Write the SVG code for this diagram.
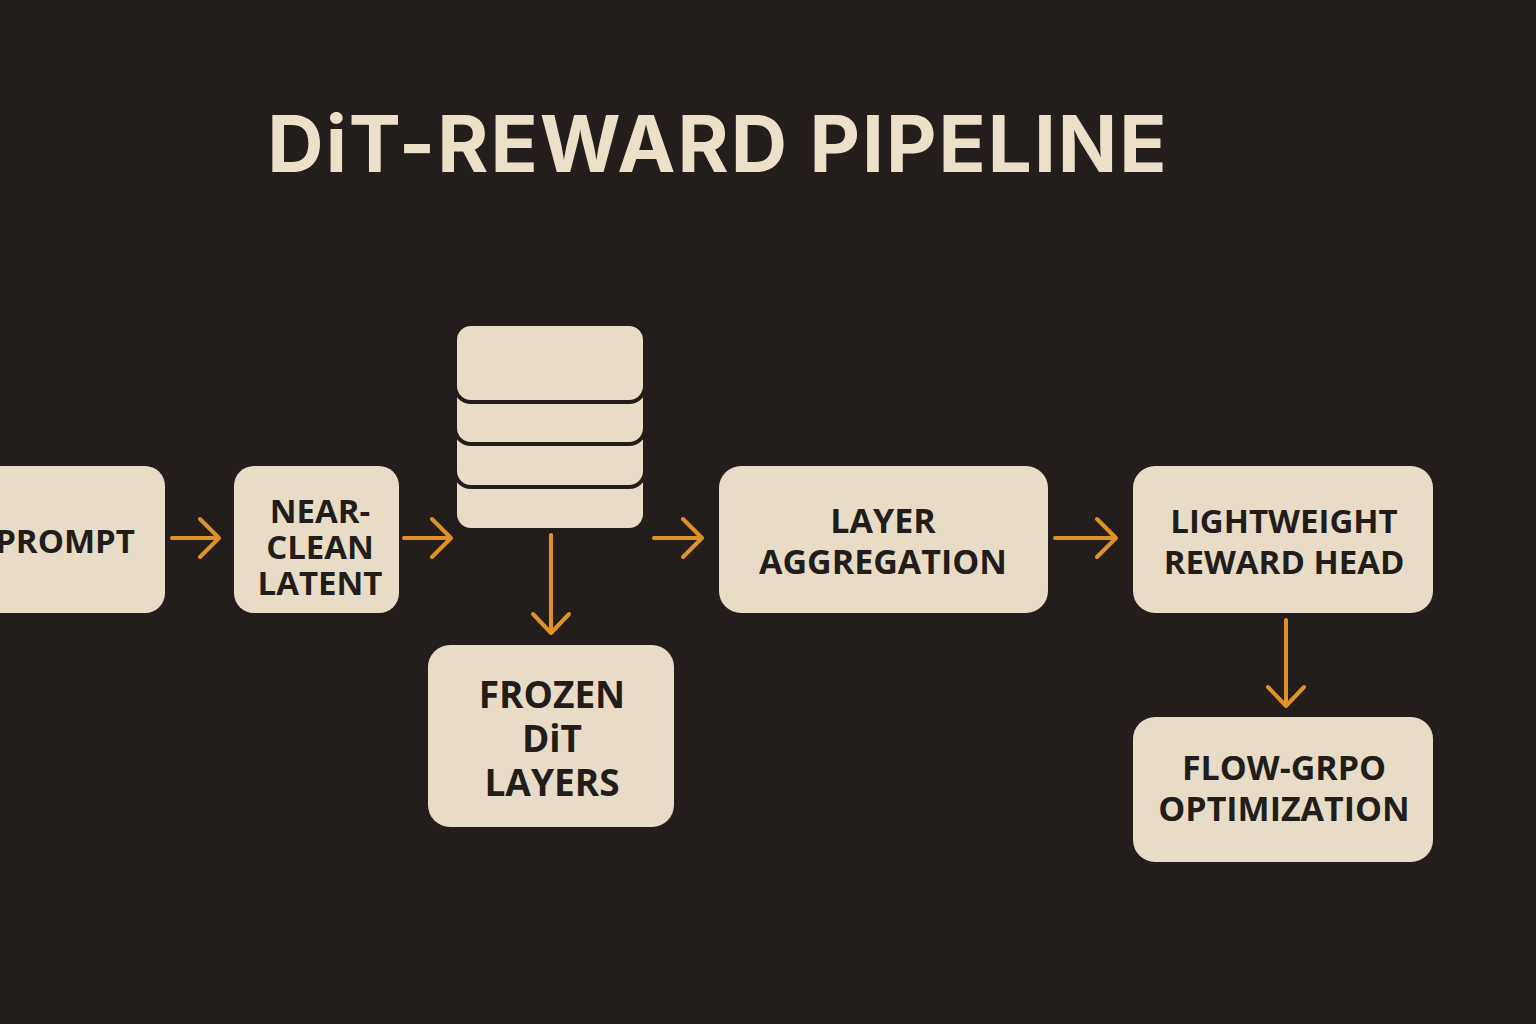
<svg xmlns="http://www.w3.org/2000/svg" width="1536" height="1024" viewBox="0 0 1536 1024">
<defs>
<style>
.box{fill:#e9dcc6}
.lay{fill:#e9dcc6;stroke:#221c1a;stroke-width:4}
.t{font-family:"Open Sans","Liberation Sans",sans-serif;font-weight:700;fill:#221c1a;text-anchor:middle}
.c{stroke:#e0922a;stroke-width:4;fill:none;stroke-linecap:round;stroke-linejoin:round}
</style>
</defs>
<rect width="1536" height="1024" fill="#231d1b"/>
<text x="718" y="172" font-family="Inter,'Liberation Sans',sans-serif" font-weight="700" font-size="78" fill="#ece0c9" text-anchor="middle" letter-spacing="2">DiT-REWARD PIPELINE</text>
<g id="prompt"><rect class="box" x="-20" y="466" width="185" height="147" rx="20"/><text class="t" x="65" y="553" font-size="33">PROMPT</text></g>
<g id="latent"><rect class="box" x="234" y="466" width="165" height="147" rx="20"/><text class="t" font-size="33"><tspan x="320" y="523">NEAR-</tspan><tspan x="320" y="559">CLEAN</tspan><tspan x="320" y="595">LATENT</tspan></text></g>
<g id="stack">
<rect class="lay" x="455" y="440" width="190" height="90" rx="16"/>
<rect class="lay" x="455" y="397" width="190" height="90" rx="16"/>
<rect class="lay" x="455" y="354" width="190" height="90" rx="16"/>
<rect class="lay" x="455" y="324" width="190" height="78" rx="16"/>
</g>
<g id="frozen"><rect class="box" x="428" y="645" width="246" height="182" rx="22"/><text class="t" font-size="37"><tspan x="552" y="708">FROZEN</tspan><tspan x="552" y="752">DiT</tspan><tspan x="552" y="796">LAYERS</tspan></text></g>
<g id="agg"><rect class="box" x="719" y="466" width="329" height="147" rx="22"/><text class="t" font-size="34"><tspan x="883" y="533">LAYER</tspan><tspan x="883" y="574">AGGREGATION</tspan></text></g>
<g id="head"><rect class="box" x="1133" y="466" width="300" height="147" rx="22"/><text class="t" font-size="33"><tspan x="1284" y="533">LIGHTWEIGHT</tspan><tspan x="1284" y="574">REWARD HEAD</tspan></text></g>
<g id="grpo"><rect class="box" x="1133" y="717" width="300" height="145" rx="22"/><text class="t" font-size="34"><tspan x="1284" y="780">FLOW-GRPO</tspan><tspan x="1284" y="821">OPTIMIZATION</tspan></text></g>
<g id="connectors">
<path class="c" d="M172 538H218M200 519L219 538L200 557"/>
<path class="c" d="M404 538H450M432 519L451 538L432 557"/>
<path class="c" d="M654 538H700M683 519L702 538L683 557"/>
<path class="c" d="M1055 538H1115M1097 519L1116 538L1097 557"/>
<path class="c" d="M551 535V632M533 614L551 633L569 614"/>
<path class="c" d="M1286 620V705M1268 687L1286 706L1304 687"/>
</g>
</svg>
